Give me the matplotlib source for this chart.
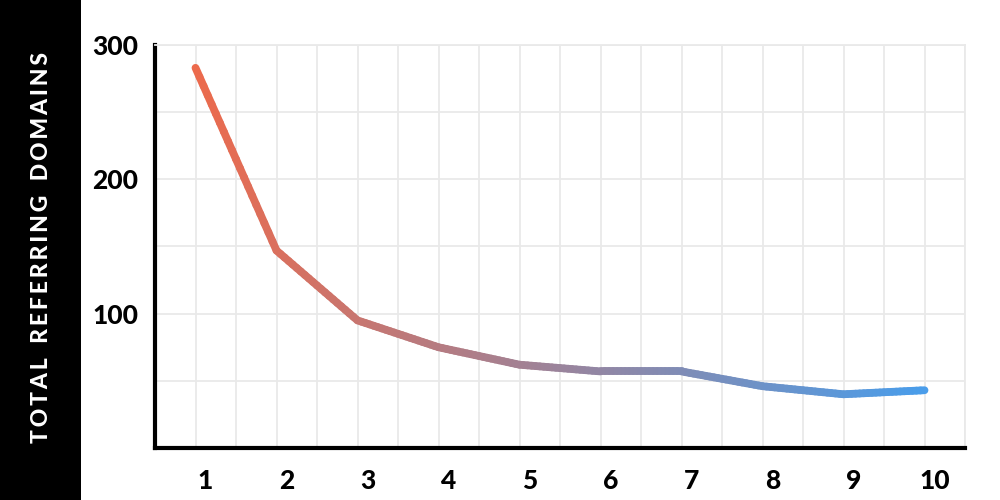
import numpy as np
import matplotlib
matplotlib.use('Agg')
import matplotlib.pyplot as plt
from matplotlib.collections import LineCollection
from matplotlib.colors import LinearSegmentedColormap
from matplotlib.patches import Rectangle
import matplotlib.transforms as mtransforms

# ── data ──
positions = [1, 2, 3, 4, 5, 6, 7, 8, 9, 10]
domains = [283, 147, 95, 75, 62, 57, 57, 46, 40, 43]
y_ticks = [100, 200, 300]
y_label = 'TOTAL REFERRING DOMAINS'

FONT = ['Lato', 'DejaVu Sans']

fig = plt.figure(figsize=(10, 5), dpi=100)
fig.patch.set_facecolor('white')
fig.patches.append(Rectangle((0, 0), 0.081, 1, transform=fig.transFigure,
                             facecolor='black', edgecolor='none', zorder=0))
spaced = '\u2009'.join(y_label).replace('\u2009 \u2009', '\u2002\u2009')
fig.text(0.042, 0.505, spaced, rotation=90, color='white', fontsize=16.5,
         fontweight='black', family=FONT, ha='center', va='center')

ax = fig.add_axes([0.155, 0.104, 0.81, 0.806])
ax.set_xlim(0.5, 10.5)
ax.set_ylim(0, 300)

# grid
ax.xaxis.remove_overlapping_locs = False
ax.yaxis.remove_overlapping_locs = False
ax.set_xticks(np.arange(0.5, 10.51, 0.5), minor=True)
ax.set_yticks(np.arange(0, 301, 50), minor=True)
ax.grid(which='minor', color='#e9e9e9', linewidth=1.3, zorder=0)
ax.set_xticks(positions)
ax.set_yticks(y_ticks)
ax.tick_params(which='both', length=0)
ax.tick_params(axis='y', pad=12)
ax.tick_params(axis='x', pad=15)
for lab in ax.get_xticklabels() + ax.get_yticklabels():
    lab.set_fontfamily(FONT)
    lab.set_fontweight('black')
    lab.set_fontsize(19)
offset = mtransforms.ScaledTranslation(10 / 100, 0, fig.dpi_scale_trans)
for lab in ax.get_xticklabels():
    lab.set_transform(lab.get_transform() + offset)

for s in ['top', 'right']:
    ax.spines[s].set_color('#e9e9e9')
    ax.spines[s].set_linewidth(1.3)
for s in ['left', 'bottom']:
    ax.spines[s].set_color('black')
    ax.spines[s].set_linewidth(3)
    ax.spines[s].set_capstyle('projecting')

# gradient line (colour varies along x)
cmap = LinearSegmentedColormap.from_list('og', ['#ec6a4c', '#4a9dea'])
segs, cols = [], []
for i in range(len(positions) - 1):
    t = np.linspace(0, 1, 21)
    xs = positions[i] + (positions[i + 1] - positions[i]) * t
    ys = domains[i] + (domains[i + 1] - domains[i]) * t
    for k in range(len(t) - 1):
        segs.append([(xs[k], ys[k]), (xs[k + 1], ys[k + 1])])
        cols.append(cmap(((xs[k] + xs[k + 1]) / 2 - 1) / 9))
lc = LineCollection(segs, colors=cols, linewidths=5.6, capstyle='round',
                    joinstyle='round', zorder=3)
ax.add_collection(lc)

fig.savefig('out.png', dpi=100, facecolor='white')
